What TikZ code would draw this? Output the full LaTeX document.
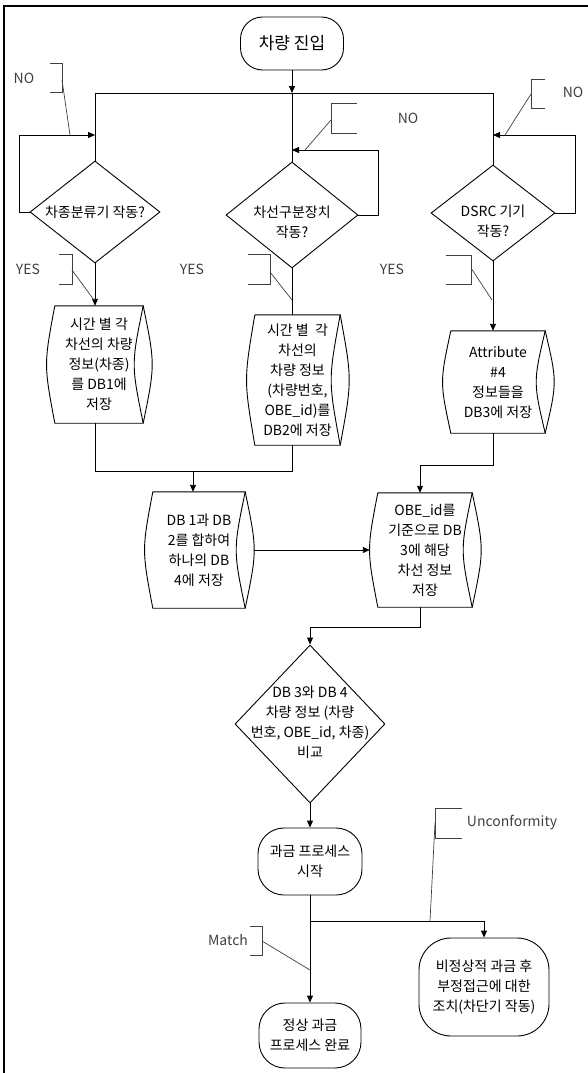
\documentclass[tikz,border=0pt]{standalone}
\usepackage{fontspec}
\setmainfont{Noto Sans CJK KR}
\usetikzlibrary{arrows.meta,shapes.geometric,calc}
\newcommand{\storoutline}[1]{%
  \draw[line] (#1.north west) -- (#1.north east) .. controls ($(#1.east)+(-12,0)$) .. (#1.south east) -- (#1.south west) .. controls ($(#1.west)+(-11,0)$) .. (#1.north west);
  \draw[line] (#1.north east) .. controls ($(#1.east)+(12,0)$) .. (#1.south east);}
\begin{document}
\begin{tikzpicture}[x=1pt,y=-1pt,
  line/.style={line width=0.9pt, black},
  arr/.style={line, -{Triangle[length=7pt,width=6pt]}},
  term/.style={draw, line width=0.9pt, rounded corners=#1, align=center, inner sep=0pt, font=\fontsize{14}{20}\selectfont},
  term/.default=24pt,
  dia/.style={diamond, draw, line width=0.9pt, inner sep=0pt},
  stor/.style={rectangle, draw=none, align=center, inner sep=0pt, font=\fontsize{14}{20}\selectfont},
  txt/.style={align=center, inner sep=0pt, font=\fontsize{14}{20}\selectfont},
  lab/.style={text=black!75, inner sep=0pt, font=\fontsize{14}{16}\selectfont},
  brk/.style={line width=0.7pt, black!75},
]
\useasboundingbox (0,0) rectangle (588,1073);
\draw[line width=1.4pt] (4,1073) -- (4,6) -- (588,6);

% terminals
\node[term=22pt, minimum width=103, minimum height=53, font=\fontsize{17}{20}\selectfont] (start) at (292,43.5) {차량 진입};
\node[term=26pt, minimum width=104, minimum height=67] (t2) at (310,861.5) {과금 프로세스\\시작};
\node[term=26pt, minimum width=102, minimum height=65] (t3) at (310,1035.5) {정상 과금\\프로세스 완료};
\node[term=32pt, minimum width=130, minimum height=98] (t4) at (484,987) {비정상적 과금 후\\부정접근에 대한\\조치(차단기 작동)};

% decisions
\node[dia, minimum width=130, minimum height=102] (d1) at (95,212) {};
\node[txt] (d1t) at (d1.center) {차종분류기 작동?};
\node[dia, minimum width=132, minimum height=106] (d2) at (292,215) {};
\node[txt] (d2t) at ($(d2.center)+(0,7)$) {차선구분장치\\작동?};
\node[dia, minimum width=124, minimum height=96] (d3) at (493,213) {};
\node[txt] (d3t) at ($(d3.center)+(0,8)$) {DSRC 기기\\작동?};
\node[dia, minimum width=150, minimum height=158] (d4) at (310,724) {};
\node[txt] (d4t) at ($(d4.center)+(0,-2)$) {DB 3와 DB 4\\차량 정보 (차량\\번호, OBE\_id, 차종)\\비교};

% storage
\node[stor, minimum width=88, minimum height=117] (s1) at (99,364.5) {시간 별 각\\차선의 차량\\정보(차종)\\를 DB1에\\저장};
\node[stor, minimum width=85, minimum height=130] (s2) at (297.5,380) {시간 별 \ 각\\차선의\\차량 정보\\(차량번호,\\OBE\_id)를\\DB2에 저장};
\node[stor, minimum width=94, minimum height=102] (s3) at (498,382) {Attribute\\\#4\\정보들을\\DB3에 저장};
\node[stor, minimum width=92, minimum height=116] (s4) at (199,550) {DB 1과 DB\\2를 합하여\\하나의 DB\\4에 저장};
\node[stor, minimum width=94, minimum height=114] (s5) at (425,550) {OBE\_id를\\기준으로 DB\\3에 해당\\차선 정보\\저장};
\storoutline{s1}
\storoutline{s2}
\storoutline{s3}
\storoutline{s4}
\storoutline{s5}

% top distribution
\coordinate (hL) at (95,93);
\coordinate (hR) at (493,93);
\draw[arr] (start.south) -- (start.south |- hL);
\draw[line] (hL) -- (hR);
\draw[line] (hL) -- (d1.north);
\draw[line] (start.south |- hL) -- (d2.north);
\draw[line] (hR) -- (d3.north);

% NO loops
\coordinate (l1) at (19,135);
\coordinate (l2) at (378,150);
\coordinate (l3) at (575,135);
\draw[arr] (d1.west) -- (l1 |- d1.west) -- (l1) -- (l1 -| d1.north);
\draw[arr] (d2.east) -- (l2 |- d2.east) -- (l2) -- (l2 -| d2.north);
\draw[arr] (d3.east) -- (l3 |- d3.east) -- (l3) -- (l3 -| d3.north);

% YES
\draw[arr] (d1.south) -- (d1.south |- s1.north);
\draw[line] (d2.south) -- (d2.south |- s2.north);
\draw[arr] (d3.south) -- (d3.south |- s3.north);

% merge DB1 + DB2
\coordinate (m1) at (95,471);
\coordinate (m2) at (292,471);
\coordinate (m3) at (193,471);
\draw[line] (m1 |- s1.south) -- (m1) -- (m2) -- (m2 |- s2.south);
\draw[arr] (m3) -- (m3 |- s4.north);

% DB3
\coordinate (r1) at (493,465);
\coordinate (r2) at (420,465);
\draw[line] (r1 |- s3.south) -- (r1) -- (r2);
\draw[arr] (r2) -- (r2 |- s5.north);

\draw[arr] ($(s4.east)+(9,0)$) -- ($(s5.west)+(-8,0)$);

\coordinate (q1) at (420,627);
\coordinate (q2) at (310,627);
\draw[line] (q1 |- s5.south) -- (q1) -- (q2);
\draw[arr] (q2) -- (d4.north);
\draw[arr] (d4.south) -- (t2.north);
\draw[arr] (t2.south) -- (t3.north);
\coordinate (b1) at (310,921);
\coordinate (b2) at (484,921);
\draw[line] (b1) -- (b2);
\draw[arr] (b2) -- (t4.north);

% callout labels
\node[lab] (no1) at (24,78) {NO};
\draw[brk] (50,63) -- (62,63) -- (62,92) -- (50,92);
\draw[brk] (62,80) -- (70,135);
\node[lab] (no2) at (408,118) {NO};
\draw[brk] (357,103) -- (331,103) -- (331,133) -- (357,133);
\draw[brk] (331,120) -- (305,150);
\node[lab] (no3) at (573,92) {NO};
\draw[brk] (545,79) -- (531,79) -- (531,108) -- (545,108);
\draw[brk] (531,94) -- (505,135);
\node[lab] (yes1) at (28,269) {YES};
\draw[brk] (59,254) -- (72,254) -- (72,284) -- (59,284);
\draw[brk] (72,270) -- (94,300);
\node[lab] (yes2) at (192,269) {YES};
\draw[brk] (248,254) -- (270,254) -- (270,284) -- (248,284);
\draw[brk] (270,272) -- (292,300);
\node[lab] (yes3) at (392,269) {YES};
\draw[brk] (446,255) -- (471,255) -- (471,284) -- (446,284);
\draw[brk] (471,268) -- (492,300);
\node[lab] (unc) at (512,822) {Unconformity};
\draw[brk] (462,808) -- (435,808) -- (435,838) -- (462,838);
\draw[brk] (435,823) -- (430,921);
\node[lab] (match) at (228,940) {Match};
\draw[brk] (250,926) -- (262,926) -- (262,955) -- (250,955);
\draw[brk] (262,941) -- (310,970);
\end{tikzpicture}
\end{document}
